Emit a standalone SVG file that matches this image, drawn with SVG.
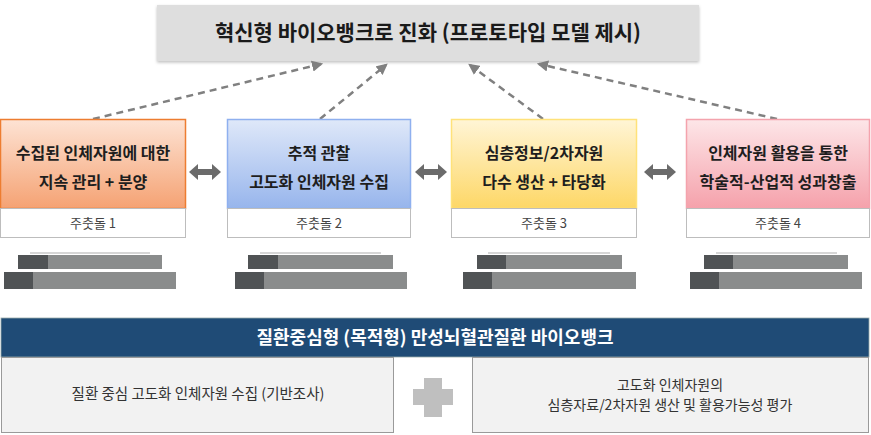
<svg xmlns="http://www.w3.org/2000/svg" width="871" height="435" viewBox="0 0 871 435">
<style>
.t{font-family:"Noto Sans CJK KR","Noto Sans",sans-serif}
.title{font-size:21px;font-weight:700;fill:#1a1a1a;text-anchor:middle}
.bt{font-size:16px;font-weight:700;fill:#1e1e1e;text-anchor:middle}
.lb{font-size:13px;fill:#444;text-anchor:middle}
.hd{font-size:18px;font-weight:700;fill:#fff;text-anchor:middle}
.lt{font-size:14.5px;fill:#333;text-anchor:middle}
.lt2{font-size:14px;fill:#333;text-anchor:middle}
.lab{fill:#fff;stroke:#bdbdbd;stroke-width:1}
.dash{fill:none;stroke:#808080;stroke-width:2.5;stroke-dasharray:7 5;marker-end:url(#ah)}
.dbl{fill:#6b6b6b}
.bar{fill:#8a8c8c}
.bard{fill:#505355}
.barl{stroke:#c8c8c8;stroke-width:1.5}
</style>
<defs>
<linearGradient id="g1" x1="0" y1="0" x2="0" y2="1"><stop offset="0" stop-color="#fde3d4"/><stop offset="1" stop-color="#f5a273"/></linearGradient>
<linearGradient id="g2" x1="0" y1="0" x2="0" y2="1"><stop offset="0" stop-color="#dfe8f9"/><stop offset="1" stop-color="#97b5ec"/></linearGradient>
<linearGradient id="g3" x1="0" y1="0" x2="0" y2="1"><stop offset="0" stop-color="#fff5d6"/><stop offset="1" stop-color="#fdd766"/></linearGradient>
<linearGradient id="g4" x1="0" y1="0" x2="0" y2="1"><stop offset="0" stop-color="#fde6e8"/><stop offset="1" stop-color="#f5a1ab"/></linearGradient>
<marker id="ah" viewBox="0 0 10 10" refX="8" refY="5" markerWidth="4.5" markerHeight="4.5" orient="auto" markerUnits="strokeWidth"><path d="M0,0 L10,5 L0,10 Z" fill="#808080"/></marker>
<filter id="sh" x="-5%" y="-20%" width="110%" height="140%"><feDropShadow dx="0" dy="1.5" stdDeviation="1.5" flood-color="#000" flood-opacity="0.25"/></filter>
<symbol id="dblarrow" viewBox="0 0 32 16"><path d="M0,8 L9,0 L9,5 L23,5 L23,0 L32,8 L23,16 L23,11 L9,11 L9,16 Z" class="dbl"/></symbol>
</defs>

<g id="top">
<rect x="157" y="5" width="542" height="56" fill="#dedede" filter="url(#sh)"/>
<text class="t title" x="428" y="40">혁신형 바이오뱅크로 진화 (프로토타입 모델 제시)</text>
</g>

<g id="connectors">
<line class="dash" x1="93" y1="119" x2="321" y2="64"/>
<line class="dash" x1="320" y1="119" x2="386" y2="65"/>
<line class="dash" x1="543" y1="119" x2="470" y2="65"/>
<line class="dash" x1="777" y1="119" x2="539" y2="64"/>
<use href="#dblarrow" x="189" y="164" width="32" height="16"/>
<use href="#dblarrow" x="415" y="164" width="32" height="16"/>
<use href="#dblarrow" x="644" y="164" width="32" height="16"/>
</g>

<g id="node1">
<rect x="0.5" y="119.5" width="185" height="89" fill="url(#g1)" stroke="#ed7d31" stroke-width="1.5"/>
<rect class="lab" x="0.5" y="208.5" width="185" height="29"/>
<text class="t bt" x="93" y="159">수집된 인체자원에 대한</text>
<text class="t bt" x="93" y="188">지속 관리 + 분양</text>
<text class="t lb" x="93" y="228">주춧돌 1</text>
</g>
<g id="node2">
<rect x="227.5" y="119.5" width="183" height="89" fill="url(#g2)" stroke="#8fb0ef" stroke-width="1.5"/>
<rect class="lab" x="227.5" y="208.5" width="183" height="29"/>
<text class="t bt" x="319" y="159">추적 관찰</text>
<text class="t bt" x="319" y="188">고도화 인체자원 수집</text>
<text class="t lb" x="319" y="228">주춧돌 2</text>
</g>
<g id="node3">
<rect x="451.5" y="119.5" width="185" height="89" fill="url(#g3)" stroke="#ffe27a" stroke-width="1.5"/>
<rect class="lab" x="451.5" y="208.5" width="185" height="29"/>
<text class="t bt" x="544" y="159">심층정보/2차자원</text>
<text class="t bt" x="544" y="188">다수 생산 + 타당화</text>
<text class="t lb" x="544" y="228">주춧돌 3</text>
</g>
<g id="node4">
<rect x="686.5" y="119.5" width="183" height="89" fill="url(#g4)" stroke="#f4a3ad" stroke-width="1.5"/>
<rect class="lab" x="686.5" y="208.5" width="183" height="29"/>
<text class="t bt" x="778" y="159">인체자원 활용을 통한</text>
<text class="t bt" x="778" y="188">학술적-산업적 성과창출</text>
<text class="t lb" x="778" y="228">주춧돌 4</text>
</g>

<g id="bars">
<line class="barl" x1="30" y1="253" x2="150" y2="253"/>
<rect class="bar" x="18" y="255" width="144" height="14"/><rect class="bard" x="18" y="255" width="30" height="14"/>
<rect class="bar" x="4" y="272" width="172" height="17"/><rect class="bard" x="4" y="272" width="29" height="17"/>
<line class="barl" x1="260" y1="253" x2="381" y2="253"/>
<rect class="bar" x="248" y="255" width="145" height="14"/><rect class="bard" x="248" y="255" width="30" height="14"/>
<rect class="bar" x="235" y="272" width="172" height="17"/><rect class="bard" x="235" y="272" width="29" height="17"/>
<line class="barl" x1="488" y1="253" x2="610" y2="253"/>
<rect class="bar" x="477" y="255" width="145" height="14"/><rect class="bard" x="477" y="255" width="29" height="14"/>
<rect class="bar" x="463" y="272" width="173" height="17"/><rect class="bard" x="463" y="272" width="29" height="17"/>
<line class="barl" x1="716" y1="253" x2="837" y2="253"/>
<rect class="bar" x="704" y="255" width="144" height="14"/><rect class="bard" x="704" y="255" width="29" height="14"/>
<rect class="bar" x="690" y="272" width="172" height="17"/><rect class="bard" x="690" y="272" width="29" height="17"/>
</g>

<g id="header">
<rect x="1" y="318" width="868" height="39" fill="#1f4b76" stroke="#9aa" stroke-width="0.8"/>
<text class="t hd" x="435" y="344">질환중심형 (목적형) 만성뇌혈관질환 바이오뱅크</text>
</g>
<g id="left">
<rect x="1.5" y="357.5" width="392" height="75" fill="#f2f2f2" stroke="#9a9a9a" stroke-width="1"/>
<text class="t lt" x="198" y="399">질환 중심 고도화 인체자원 수집 (기반조사)</text>
</g>
<g id="plus">
<path d="M424,378 H442 V389 H453 V405 H442 V417 H424 V405 H413 V389 H424 Z" fill="#bfbfbf"/>
</g>
<g id="right">
<rect x="472.5" y="357.5" width="396" height="75" fill="#f2f2f2" stroke="#9a9a9a" stroke-width="1"/>
<text class="t lt2" x="670" y="390">고도화 인체자원의</text>
<text class="t lt2" x="670" y="410">심층자료/2차자원 생산 및 활용가능성 평가</text>
</g>
</svg>
